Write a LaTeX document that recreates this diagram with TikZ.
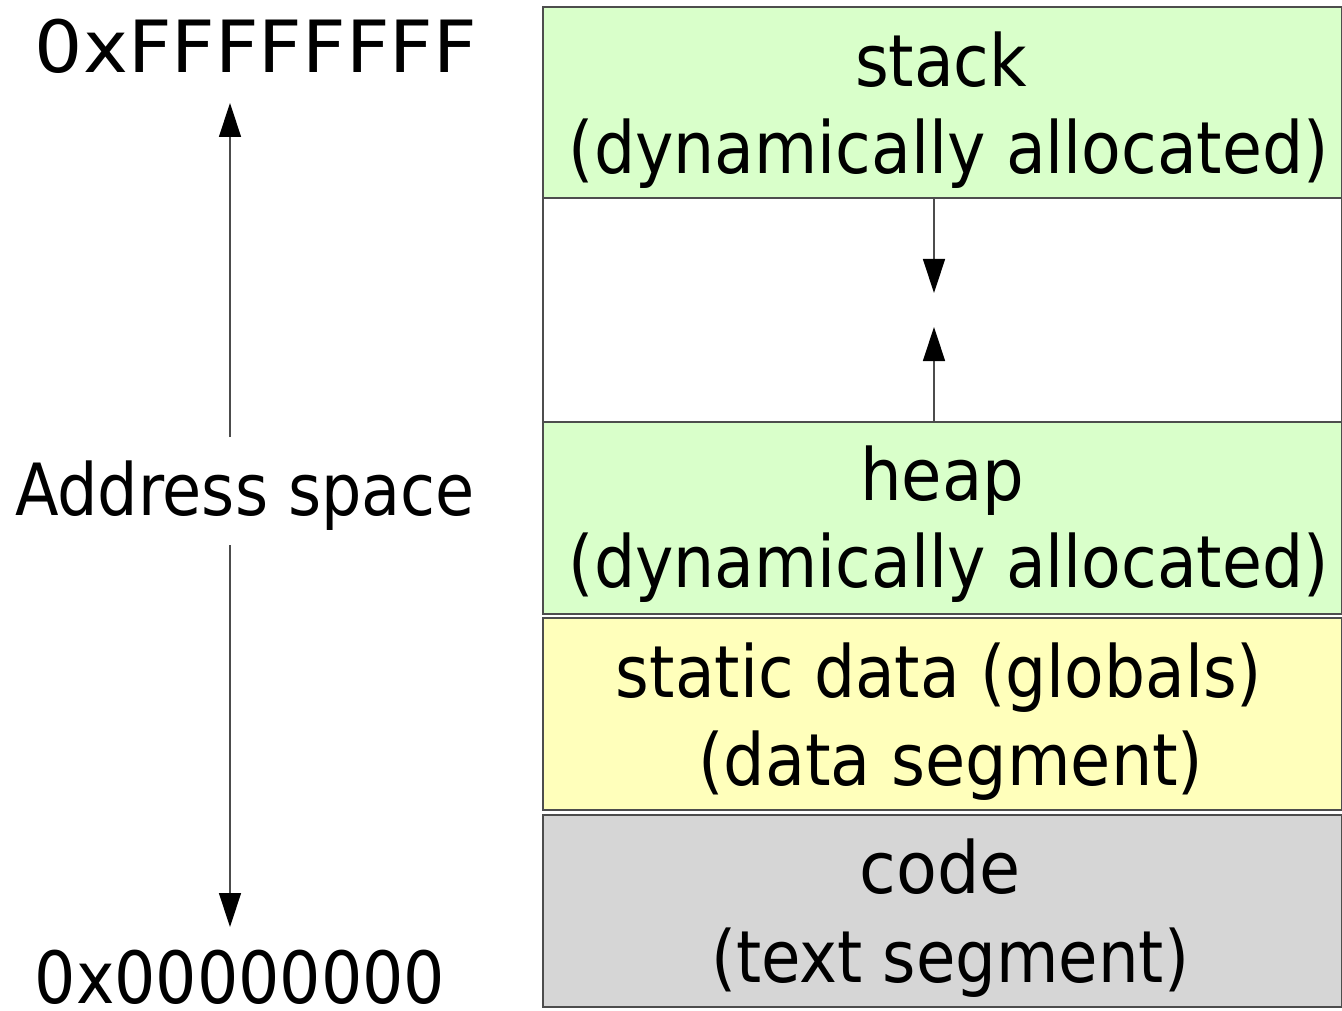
\documentclass[tikz,border=0pt]{standalone}
\usepackage{fontspec}
\setmainfont{DejaVu Sans Condensed}
\usetikzlibrary{arrows.meta}
\definecolor{greenc}{HTML}{D9FFCA}
\definecolor{yellowc}{HTML}{FFFFBB}
\definecolor{grayc}{HTML}{D6D6D6}
\definecolor{edgec}{HTML}{4D4D4D}
\newcommand{\fitw}[2]{\resizebox{#1}{\height}{#2}}
\begin{document}
\begin{tikzpicture}[x=1pt,y=-1pt,
  seg/.style={draw=edgec,line width=1.3pt,minimum width=799pt,inner sep=0pt,outer sep=0pt},
  lbl/.style={font=\fontsize{72}{86}\selectfont,anchor=base,inner sep=0pt},
  conn/.style={draw=black!70,line width=1.4pt,-{Triangle[length=34pt,width=22pt,fill=black,color=black]}}
]
\useasboundingbox (0,0) rectangle (1342,1011);
\fill[white] (0,0) rectangle (1342,1011);
% segments
\node[seg,fill=greenc,minimum height=191pt] (stack) at (942.5,102.5) {};
\node[seg,fill=white,minimum height=224pt] (gap) at (942.5,310) {};
\node[seg,fill=greenc,minimum height=192pt] (heap) at (942.5,518) {};
\node[seg,fill=yellowc,minimum height=192pt] (static) at (942.5,714) {};
\node[seg,fill=grayc,minimum height=192pt] (code) at (942.5,911) {};
% texts in segments
\node[lbl] (stackt) at (941,87) {\fitw{172pt}{stack}};
\node[lbl] (stackd) at (949,174) {\fitw{760pt}{(dynamically allocated)}};
\node[lbl] (heapt) at (942,500) {\fitw{164pt}{heap}};
\node[lbl] (heapd) at (949,587) {\fitw{760pt}{(dynamically allocated)}};
\node[lbl] (statict) at (939,697) {\fitw{646pt}{static data (globals)}};
\node[lbl] (staticd) at (951,785) {\fitw{505pt}{(data segment)}};
\node[lbl] (codet) at (940,893) {\fitw{161pt}{code}};
\node[lbl] (coded) at (950,982) {\fitw{478pt}{(text segment)}};
% left labels
\node[lbl] (hi) at (256,73) {\fitw{442pt}{0xFFFFFFFF}};
\node[lbl] (addr) at (245,515) {\fitw{460pt}{Address space}};
\node[lbl] (lo) at (240,1003) {\fitw{410pt}{0x00000000}};
% connector end points
\coordinate (mdown) at (934,293);
\coordinate (mup) at (934,327);
\coordinate (atop) at (230,437);
\coordinate (abot) at (230,545);
\coordinate (ttip) at (230,103);
\coordinate (btip) at (230,927);
% connectors
\draw[conn] (mdown |- stack.south) -- (mdown);
\draw[conn] (mup |- heap.north) -- (mup);
\draw[conn] (atop) -- (ttip);
\draw[conn] (abot) -- (btip);
\end{tikzpicture}
\end{document}
